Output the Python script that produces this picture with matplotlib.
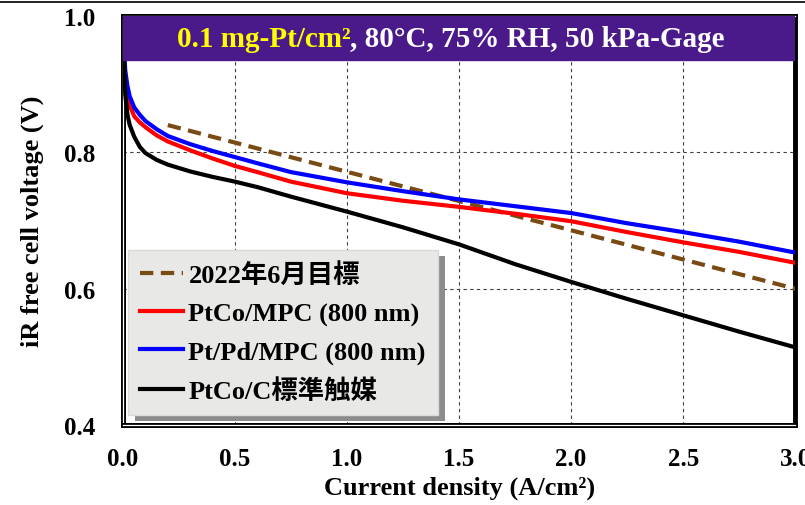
import matplotlib.pyplot as plt
import matplotlib.patheffects as pe
from matplotlib.lines import Line2D

# polarization curves (current density in A/cm2, iR-free voltage in V)
current = [0.005, 0.01, 0.02, 0.03, 0.05, 0.075, 0.1, 0.15, 0.2, 0.3, 0.4, 0.5,
           0.6, 0.75, 1.0, 1.25, 1.5, 1.75, 2.0, 2.25, 2.5, 2.75, 3.0]
v_ptco_mpc = [0.94, 0.905, 0.882, 0.869, 0.853, 0.844, 0.837, 0.825, 0.816, 0.803,
              0.791, 0.780, 0.771, 0.757, 0.740, 0.729, 0.720, 0.710, 0.699, 0.683,
              0.668, 0.654, 0.638]
v_ptpd_mpc = [0.95, 0.92, 0.897, 0.882, 0.866, 0.855, 0.846, 0.834, 0.824, 0.812,
              0.802, 0.793, 0.784, 0.771, 0.756, 0.743, 0.731, 0.721, 0.711, 0.696,
              0.683, 0.669, 0.653]
v_ptco_c = [0.94, 0.885, 0.855, 0.840, 0.823, 0.808, 0.799, 0.789, 0.782, 0.772,
            0.764, 0.757, 0.749, 0.735, 0.713, 0.690, 0.665, 0.636, 0.610, 0.585,
            0.561, 0.537, 0.514]
target_current = [0.2, 3.0]
target_voltage = [0.84, 0.60]

labels = ["2022年6月目標", "PtCo/MPC (800 nm)", "Pt/Pd/MPC (800 nm)", "PtCo/C標準触媒"]
title_a = "0.1 mg-Pt/cm²"
title_b = ", 80°C, 75% RH, 50 kPa-Gage"
x_ticks = [0.0, 0.5, 1.0, 1.5, 2.0, 2.5, 3.0]
y_ticks = [0.4, 0.6, 0.8, 1.0]

fonts = ["Liberation Serif", "Noto Sans CJK JP", "DejaVu Sans"]
plt.rcParams["font.family"] = fonts
plt.rcParams["font.weight"] = "bold"
plt.rcParams["axes.labelweight"] = "bold"

fig = plt.figure(figsize=(8.05, 5.06), dpi=100)
ax = fig.add_axes([0.1528, 0.158, 0.835, 0.8084])

ax.plot(target_current, target_voltage, color="#7a4a14", lw=3.0,
        dashes=(3.2, 1.8), label=labels[0], zorder=3)
ax.plot(current, v_ptco_mpc, color="#ff0000", lw=3.0, label=labels[1], zorder=3)
ax.plot(current, v_ptpd_mpc, color="#0000ff", lw=3.0, label=labels[2], zorder=3)
ax.plot(current, v_ptco_c, color="black", lw=3.0, label=labels[3], zorder=3)

ax.set_xlim(0, 3.0)
ax.set_ylim(0.4, 1.0)
ax.set_xticks(x_ticks, [f"{v:.1f}" for v in x_ticks])
ax.set_yticks(y_ticks, [f"{v:.1f}" for v in y_ticks])
ax.tick_params(length=0, labelsize=18)
ax.tick_params(axis="x", pad=16)
ax.tick_params(axis="y", pad=20)
ax.grid(True, color="0.25", lw=0.8, linestyle=(0, (3, 3)))
ax.set_axisbelow(True)

ax.set_xlabel("Current density (A/cm²)", fontsize=19, labelpad=4)
ax.set_ylabel("iR free cell voltage (V)", fontsize=19, labelpad=14)

# double-line frame
for side in ["left", "bottom", "top"]:
    sp = ax.spines[side]
    sp.set_color("white")
    sp.set_linewidth(0.9)
    sp.set_path_effects([pe.Stroke(linewidth=3.6, foreground="black"), pe.Normal()])
ax.spines["right"].set_linewidth(3.5)

# condition banner across the top of the plot
ax.axhspan(0.935, 1.0, color="#4b1a8a", zorder=5)
t1 = ax.text(0.080, 0.944, title_a, transform=ax.transAxes, color="#ffff00",
             fontsize=21, ha="left", va="center", zorder=6)
ax.annotate(title_b, xy=(1, 0), xycoords=t1, ha="left", va="bottom",
            color="white", fontsize=21, zorder=6)

leg = ax.legend(loc="lower left", bbox_to_anchor=(0.007, 0.024), borderaxespad=0,
                fontsize=19, handlelength=1.65, handletextpad=0.2,
                labelspacing=0.55, borderpad=0.45, fancybox=False,
                framealpha=1, facecolor="#e8e8e6", edgecolor="#dadada")
leg.get_frame().set_path_effects([
    pe.SimplePatchShadow(offset=(5, -4), shadow_rgbFace="0.55", alpha=1),
    pe.Normal()])
leg.set_zorder(7)

fig.add_artist(Line2D([0, 1], [0.995, 0.995], color="black", lw=1.2))

fig.savefig("out.png", dpi=100)
